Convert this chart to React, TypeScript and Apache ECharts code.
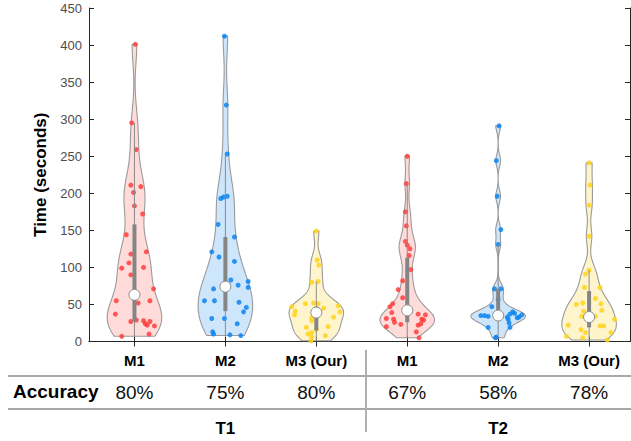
import React, { useEffect, useRef } from "react";
import * as echarts from "echarts";

const categories = ["M1", "M2", "M3 (Our)", "M1", "M2", "M3 (Our)"];
const accuracy = ["80%", "75%", "80%", "67%", "58%", "78%"];
const groups = ["T1", "T2"];
const groupPositions = [2, 5];

// T1 - M1
const valuesT1M1 = [401, 295, 259, 211, 209, 201, 183, 172, 144, 121, 118, 106, 100, 99, 90, 71, 55, 55, 52, 37, 29, 28, 27, 27, 24, 22, 21, 10, 7];
const jitterT1M1 = [0.01, -0.03, 0.02, -0.04, 0.07, -0.01, 0.0, 0.09, -0.09, 0.13, -0.04, -0.06, 0.1, -0.14, -0.04, 0.21, -0.2, 0.17, 0.04, -0.21, 0.02, 0.1, -0.04, 0.17, 0.12, 0.14, 0.22, 0.16, -0.14];
// T1 - M2
const valuesT1M2 = [412, 319, 253, 196, 195, 193, 158, 141, 121, 114, 108, 83, 81, 76, 73, 71, 55, 55, 53, 46, 40, 31, 31, 24, 13, 10, 9, 8];
const jitterT1M2 = [-0.01, 0.01, 0.02, 0.02, -0.02, -0.05, -0.08, 0.1, -0.15, -0.07, 0.1, 0.06, 0.25, 0.14, 0.25, -0.13, -0.23, -0.12, 0.15, 0.23, 0.2, -0.15, -0.01, 0.13, -0.14, -0.13, 0.05, 0.17];
// T1 - M3 (Our)
const valuesT1M3 = [149, 110, 103, 80, 81, 47, 41, 36, 51, 52, 51, 45, 48, 40, 33, 32, 28, 20, 19, 16, 10, 12, 8, 6, 1];
const jitterT1M3 = [0.0, 0.01, 0.03, -0.05, 0.02, -0.27, -0.23, -0.24, -0.12, -0.03, 0.02, 0.08, 0.24, 0.26, 0.19, -0.05, -0.05, 0.13, -0.11, 0.0, -0.09, -0.05, 0.1, -0.05, -0.06];
// T2 - M1
const valuesT2M1 = [250, 213, 175, 156, 135, 130, 125, 116, 97, 82, 70, 59, 51, 47, 39, 31, 30, 26, 23, 20, 37, 36, 29, 24, 22, 30, 13, 5];
const jitterT2M1 = [0.0, -0.01, -0.02, -0.01, -0.02, 0.0, 0.03, 0.02, 0.04, -0.05, -0.1, -0.05, -0.16, -0.19, -0.17, -0.23, -0.15, -0.14, -0.07, -0.23, 0.12, 0.2, 0.18, 0.15, 0.12, 0.16, 0.1, 0.13];
// T2 - M2
const valuesT2M2 = [291, 244, 196, 151, 131, 71, 71, 57, 47, 35, 35, 34, 33, 37, 40, 32, 33, 36, 25, 19, 19, 6, 5, 38, 30];
const jitterT2M2 = [0.01, -0.02, -0.01, 0.03, 0.0, -0.04, 0.03, 0.0, -0.07, -0.19, -0.15, -0.11, 0.1, 0.13, 0.16, 0.21, 0.23, 0.26, 0.12, 0.13, -0.11, -0.02, -0.03, 0.18, 0.11];
// T2 - M3 (Our)
const valuesT2M3 = [241, 211, 184, 142, 96, 91, 73, 73, 58, 50, 52, 51, 41, 42, 34, 34, 30, 22, 21, 21, 16, 12, 12, 7, 5, 2];
const jitterT2M3 = [0.0, 0.01, 0.0, 0.0, 0.0, -0.04, -0.05, 0.12, 0.07, -0.14, -0.07, 0.13, -0.06, 0.14, -0.08, 0.07, 0.28, -0.23, 0.12, 0.16, -0.09, -0.04, 0.24, -0.25, -0.07, 0.2];

// box statistics
const q1Values = [27, 41, 15, 26, 28, 19];
const medianValues = [63, 74, 39, 42, 35, 33];
const q3Values = [158, 141, 47, 113, 71, 68];

const allValues = [valuesT1M1, valuesT1M2, valuesT1M3, valuesT2M1, valuesT2M2, valuesT2M3];
const allJitter = [jitterT1M1, jitterT1M2, jitterT1M3, jitterT2M1, jitterT2M2, jitterT2M3];

const pointColors = ["#ff3d3d", "#0b84f0", "#ffd21a", "#ff3d3d", "#0b84f0", "#ffd21a"];
const fillColors = [
  "rgba(255,90,80,0.22)",
  "rgba(30,140,240,0.22)",
  "rgba(255,215,40,0.24)",
  "rgba(255,90,80,0.22)",
  "rgba(30,140,240,0.22)",
  "rgba(255,215,40,0.24)",
];

const FONT = "'Liberation Sans', Arial, Helvetica, sans-serif";
const VIOLIN_WIDTH = 0.3;
const BANDWIDTH_SCALE = 0.8;

function med(arr: number[]) {
  const s = [...arr].sort((a, b) => a - b);
  const n = s.length;
  return n % 2 ? s[(n - 1) / 2] : (s[n / 2 - 1] + s[n / 2]) / 2;
}

function violinShape(vals: number[], center: number) {
  const n = vals.length;
  const mad = med(vals.map((v) => Math.abs(v - center)));
  const sig = mad / 0.6745;
  const h = BANDWIDTH_SCALE * sig * Math.pow(4 / (3 * n), 0.2);
  const lo = Math.min(...vals);
  const hi = Math.max(...vals);
  const M = 260;
  const pts: number[][] = [];
  for (let i = 0; i < M; i++) {
    const y = lo + ((hi - lo) * i) / (M - 1);
    let d = 0;
    for (const v of vals) d += Math.exp(-0.5 * ((y - v) / h) ** 2);
    pts.push([y, d]);
  }
  const maxD = Math.max(...pts.map((p) => p[1]));
  return pts.map(([y, d]) => [y, (d / maxD) * VIOLIN_WIDTH]);
}

function whiskers(vals: number[], q1: number, q3: number) {
  const iqr = q3 - q1;
  const loF = q1 - 1.5 * iqr;
  const hiF = q3 + 1.5 * iqr;
  const inside = vals.filter((v) => v >= loF && v <= hiF);
  return [Math.min(...inside), Math.max(...inside)];
}

export default function App() {
  const ref = useRef<HTMLDivElement>(null);
  useEffect(() => {
    if (!ref.current) return;
    const chart = echarts.init(ref.current, null, { renderer: "svg" });
    const shapes = allValues.map((vals, i) => violinShape(vals, medianValues[i]));
    const positions = categories.map((_, i) => i + 1);

    const violinSeries = {
      type: "custom",
      z: 1,
      xAxisIndex: 0,
      yAxisIndex: 0,
      data: positions.map((p) => [p]),
      renderItem: (params: any, api: any) => {
        const i = params.dataIndex;
        const pos = api.value(0);
        const sh = shapes[i];
        const right = sh.map(([y, w]) => api.coord([pos + w, y]));
        const left = sh.slice().reverse().map(([y, w]) => api.coord([pos - w, y]));
        return {
          type: "polygon",
          shape: { points: right.concat(left) },
          style: { fill: fillColors[i], stroke: "#9a9a9a", lineWidth: 1.1 },
        };
      },
    };

    const scatterSeries = allValues.map((vals, i) => ({
      type: "scatter",
      z: 2,
      xAxisIndex: 0,
      yAxisIndex: 0,
      symbolSize: 5,
      itemStyle: { color: pointColors[i], opacity: 0.85 },
      data: vals.map((v, k) => [positions[i] + allJitter[i][k], v]),
    }));

    const boxSeries = {
      type: "custom",
      z: 3,
      xAxisIndex: 0,
      yAxisIndex: 0,
      data: positions.map((p, i) => {
        const [wl, wh] = whiskers(allValues[i], q1Values[i], q3Values[i]);
        return [p, q1Values[i], medianValues[i], q3Values[i], wl, wh];
      }),
      renderItem: (params: any, api: any) => {
        const x = api.value(0);
        const pLo = api.coord([x, api.value(4)]);
        const pHi = api.coord([x, api.value(5)]);
        const pQ1 = api.coord([x, api.value(1)]);
        const pQ3 = api.coord([x, api.value(3)]);
        const pMed = api.coord([x, api.value(2)]);
        return {
          type: "group",
          children: [
            {
              type: "line",
              shape: { x1: pLo[0], y1: pLo[1], x2: pHi[0], y2: pHi[1] },
              style: { stroke: "#8a8a8a", lineWidth: 1 },
            },
            {
              type: "rect",
              shape: { x: pQ3[0] - 2, y: pQ3[1], width: 4, height: pQ1[1] - pQ3[1] },
              style: { fill: "#858585" },
            },
            {
              type: "circle",
              shape: { cx: pMed[0], cy: pMed[1], r: 5.5 },
              style: { fill: "#ffffff", stroke: "#8a8a8a", lineWidth: 1 },
            },
          ],
        };
      },
    };

    const axisLineStyle = { color: "#262626", width: 1 };

    chart.setOption({
      animation: false,
      grid: { left: 89, right: 1, top: 8, bottom: 99.5, containLabel: false },
      xAxis: [
        {
          type: "value",
          position: "bottom",
          min: 0.5,
          max: 6.45,
          splitLine: { show: false },
          axisLine: { show: true, lineStyle: axisLineStyle },
          axisTick: { show: true, inside: true, length: 5, customValues: positions, lineStyle: axisLineStyle },
          axisLabel: {
            show: true,
            customValues: positions,
            formatter: (v: number) => categories[Math.round(v) - 1] ?? "",
            color: "#000",
            fontFamily: FONT,
            fontWeight: "bold",
            fontSize: 15,
            margin: 11,
          },
        },
        {
          type: "value",
          position: "top",
          min: 0.5,
          max: 6.45,
          splitLine: { show: false },
          axisLine: { show: true, lineStyle: axisLineStyle },
          axisTick: { show: true, inside: true, length: 5, customValues: positions, lineStyle: axisLineStyle },
          axisLabel: { show: false },
        },
        {
          type: "value",
          position: "bottom",
          min: 0.5,
          max: 6.45,
          splitLine: { show: false },
          axisLine: { show: false },
          axisTick: { show: false },
          axisLabel: {
            show: true,
            customValues: positions,
            formatter: (v: number) => accuracy[Math.round(v) - 1] ?? "",
            color: "#111",
            fontFamily: FONT,
            fontSize: 19,
            margin: 41,
          },
        },
        {
          type: "value",
          position: "bottom",
          min: 0.5,
          max: 6.45,
          splitLine: { show: false },
          axisLine: { show: false },
          axisTick: { show: false },
          axisLabel: {
            show: true,
            customValues: groupPositions,
            formatter: (v: number) => groups[groupPositions.indexOf(Math.round(v))] ?? "",
            color: "#000",
            fontFamily: FONT,
            fontWeight: "bold",
            fontSize: 17,
            margin: 78,
          },
        },
      ],
      yAxis: [
        {
          type: "value",
          position: "left",
          min: 0,
          max: 450,
          interval: 50,
          splitLine: { show: false },
          axisLine: { show: true, lineStyle: axisLineStyle },
          axisTick: { show: true, inside: true, length: 5, lineStyle: axisLineStyle },
          axisLabel: { color: "#4d4d4d", fontFamily: FONT, fontSize: 13, margin: 7 },
          name: "Time (seconds)",
          nameLocation: "middle",
          nameGap: 38,
          nameTextStyle: { color: "#000", fontFamily: FONT, fontWeight: "bold", fontSize: 17 },
        },
        {
          type: "value",
          position: "right",
          min: 0,
          max: 450,
          interval: 50,
          splitLine: { show: false },
          axisLine: { show: true, lineStyle: axisLineStyle },
          axisTick: { show: true, inside: true, length: 5, lineStyle: axisLineStyle },
          axisLabel: { show: false },
        },
      ],
      graphic: [
        {
          type: "text",
          left: 13,
          top: 382,
          style: { text: "Accuracy", font: `bold 19px ${FONT}`, fill: "#000" },
        },
        {
          type: "line",
          shape: { x1: 8, y1: 376, x2: 631, y2: 376 },
          style: { stroke: "#a8a8a8", lineWidth: 2 },
        },
        {
          type: "line",
          shape: { x1: 8, y1: 409, x2: 631, y2: 409 },
          style: { stroke: "#a8a8a8", lineWidth: 2 },
        },
        {
          type: "line",
          shape: { x1: 366, y1: 350, x2: 366, y2: 432 },
          style: { stroke: "#b0b0b0", lineWidth: 2 },
        },
      ],
      series: [violinSeries, ...scatterSeries, boxSeries],
    });
    return () => chart.dispose();
  }, []);
  return (
    <div
      ref={ref}
      style={{ position: "fixed", left: 0, top: 0, width: 631, height: 441, background: "#fff" }}
    />
  );
}
